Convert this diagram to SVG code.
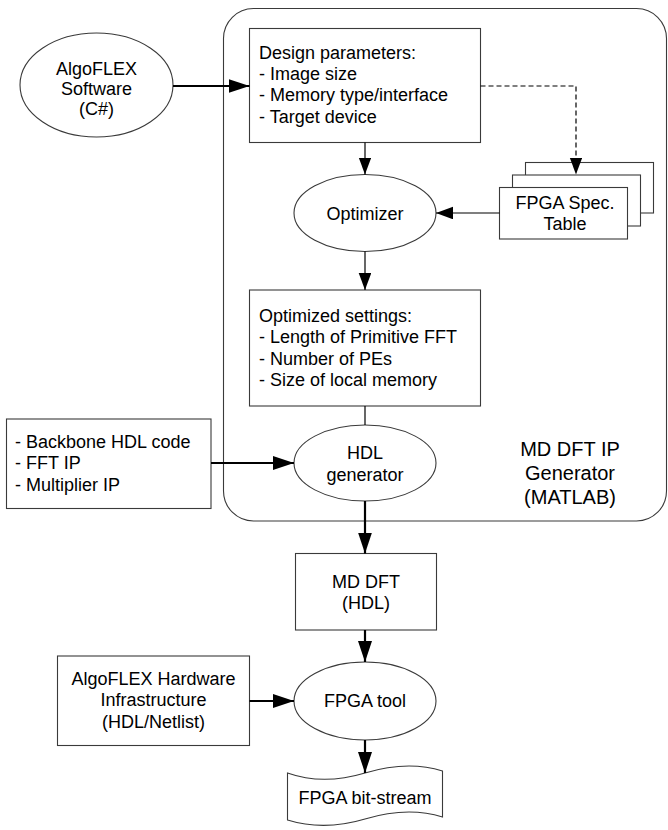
<svg xmlns="http://www.w3.org/2000/svg" width="668" height="830" viewBox="0 0 668 830">
  <style>
    .shape { fill: #ffffff; stroke: #3a3a3a; stroke-width: 1.1; }
    .frame { fill: none; stroke: #3a3a3a; stroke-width: 1.1; }
    .txt { font-family: "Liberation Sans", Arial, sans-serif; font-size: 18px; fill: #000000; }
    .mid { text-anchor: middle; }
    .big { font-size: 20px; }
    .thick { fill: none; stroke: #000000; stroke-width: 2.2; }
    .thin { fill: none; stroke: #000000; stroke-width: 1.2; }
    .dash { fill: none; stroke: #000000; stroke-width: 1.2; stroke-dasharray: 5 3; }
  </style>
  <defs>
    <marker id="headBig" markerUnits="userSpaceOnUse" markerWidth="22" markerHeight="15" refX="21" refY="7" orient="auto">
      <path d="M0,0 L21,7 L0,14 Z" fill="#000000"/>
    </marker>
    <marker id="headSmall" markerUnits="userSpaceOnUse" markerWidth="18" markerHeight="14" refX="17" refY="6.3" orient="auto">
      <path d="M0,0 L17,6.3 L0,12.6 Z" fill="#000000"/>
    </marker>
  </defs>

  <rect width="668" height="830" fill="#ffffff"/>

  <!-- MATLAB generator container -->
  <g id="ip-generator">
    <rect class="frame" x="223.5" y="8.5" width="443" height="512.5" rx="30" ry="30"/>
    <text class="txt big mid" x="570" y="456">MD DFT IP</text>
    <text class="txt big mid" x="570" y="480">Generator</text>
    <text class="txt big mid" x="570" y="504">(MATLAB)</text>
  </g>

  <g id="algoflex-software">
    <ellipse class="shape" cx="96.5" cy="85" rx="76.5" ry="52"/>
    <text class="txt mid" x="96.5" y="74.5">AlgoFLEX</text>
    <text class="txt mid" x="96.5" y="94.5">Software</text>
    <text class="txt mid" x="96.5" y="114.5">(C#)</text>
  </g>

  <g id="design-parameters">
    <rect class="shape" x="249.5" y="28.5" width="231" height="114"/>
    <text class="txt" x="259" y="58.5">Design parameters:</text>
    <text class="txt" x="259" y="79.5">- Image size</text>
    <text class="txt" x="259" y="101">- Memory type/interface</text>
    <text class="txt" x="259" y="122.5">- Target device</text>
  </g>

  <g id="fpga-spec-table">
    <rect class="shape" x="525.5" y="162.5" width="128" height="50.5"/>
    <rect class="shape" x="512.5" y="175" width="128" height="51"/>
    <rect class="shape" x="499.5" y="187.5" width="128" height="51.5"/>
    <text class="txt mid" x="565" y="208.5">FPGA Spec.</text>
    <text class="txt mid" x="565" y="229.5">Table</text>
  </g>

  <g id="optimizer">
    <ellipse class="shape" cx="365" cy="213" rx="71" ry="38.5"/>
    <text class="txt mid" x="365" y="219.5">Optimizer</text>
  </g>

  <g id="optimized-settings">
    <rect class="shape" x="249.5" y="290" width="231" height="116"/>
    <text class="txt" x="259" y="321.5">Optimized settings:</text>
    <text class="txt" x="259" y="343">- Length of Primitive FFT</text>
    <text class="txt" x="259" y="364.5">- Number of PEs</text>
    <text class="txt" x="259" y="386">- Size of local memory</text>
  </g>

  <g id="ip-sources">
    <rect class="shape" x="6.5" y="419" width="204.5" height="89.5"/>
    <text class="txt" x="15" y="447.5">- Backbone HDL code</text>
    <text class="txt" x="15" y="469">- FFT IP</text>
    <text class="txt" x="15" y="490.5">- Multiplier IP</text>
  </g>

  <g id="hdl-generator">
    <ellipse class="shape" cx="365" cy="463" rx="71" ry="38"/>
    <text class="txt mid" x="365" y="459">HDL</text>
    <text class="txt mid" x="365" y="480.5">generator</text>
  </g>

  <g id="md-dft-hdl">
    <rect class="shape" x="295.5" y="553.5" width="141" height="76.5"/>
    <text class="txt mid" x="366" y="588">MD DFT</text>
    <text class="txt mid" x="366" y="609">(HDL)</text>
  </g>

  <g id="hardware-infrastructure">
    <rect class="shape" x="57.5" y="656" width="192" height="89.5"/>
    <text class="txt mid" x="153.5" y="684.5">AlgoFLEX Hardware</text>
    <text class="txt mid" x="153.5" y="706">Infrastructure</text>
    <text class="txt mid" x="153.5" y="727.5">(HDL/Netlist)</text>
  </g>

  <g id="fpga-tool">
    <ellipse class="shape" cx="365" cy="701" rx="71" ry="39"/>
    <text class="txt mid" x="365" y="706.5">FPGA tool</text>
  </g>

  <g id="bit-stream">
    <path class="shape" d="M287.5,773 C310,781 335,782 365,773 C395,764 420,764 442.5,771 L442.5,817 C420,810 395,810 365,819 C335,828 310,827 287.5,820 Z"/>
    <text class="txt mid" x="365" y="804">FPGA bit-stream</text>
  </g>

  <!-- flow connectors -->
  <g id="connectors">
    <line class="thick" x1="173" y1="86" x2="249.5" y2="86" marker-end="url(#headBig)"/>
    <polyline class="dash" points="480.5,86 576,86 576,174.5" marker-end="url(#headSmall)"/>
    <line class="thin" x1="365" y1="142.5" x2="365" y2="174.5" marker-end="url(#headSmall)"/>
    <line class="thin" x1="499.5" y1="213" x2="436" y2="213" marker-end="url(#headSmall)"/>
    <line class="thin" x1="365" y1="251.5" x2="365" y2="290" marker-end="url(#headSmall)"/>
    <line class="thin" x1="365" y1="406" x2="365" y2="425"/>
    <line class="thick" x1="211" y1="463" x2="294" y2="463" marker-end="url(#headBig)"/>
    <line class="thick" x1="365" y1="501" x2="365" y2="553.5" marker-end="url(#headBig)"/>
    <line class="thick" x1="365" y1="630" x2="365" y2="662" marker-end="url(#headBig)"/>
    <line class="thick" x1="249.5" y1="701" x2="294" y2="701" marker-end="url(#headBig)"/>
    <line class="thick" x1="365" y1="740" x2="365" y2="773" marker-end="url(#headBig)"/>
  </g>
</svg>
